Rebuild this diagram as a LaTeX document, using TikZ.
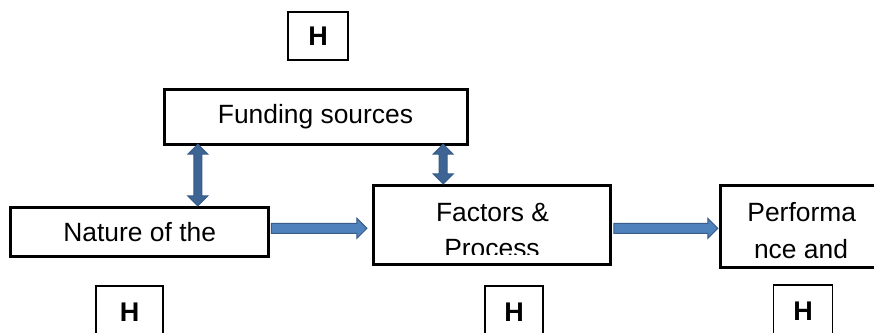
\documentclass[tikz,border=0pt]{standalone}
\usepackage{fontspec}
\setmainfont{Liberation Sans}
\usetikzlibrary{calc}
\definecolor{arrfill}{HTML}{4F81BD}
\definecolor{arrline}{HTML}{385D8A}
\definecolor{varrfill}{HTML}{3E6494}
\begin{document}
\begin{tikzpicture}[x=1pt,y=-1pt,
  bigbox/.style={draw=black, line width=3pt, inner sep=0pt, fill=white,
    font=\fontsize{26.4}{36}\selectfont},
  hbox/.style={draw=black, line width=1.5pt, inner sep=0pt, fill=white,
    font=\fontsize{27}{30}\selectfont\bfseries},
  txt/.style={inner sep=0pt, font=\fontsize{26.4}{36}\selectfont},
  harr/.style={draw=arrline, fill=arrfill, line width=1pt, line join=miter},
  varr/.style={draw=arrline, fill=varrfill, line width=1pt, line join=miter}]
\clip (0,0) rectangle (874,332);
\fill[white] (0,0) rectangle (874,332);
% boxes
\node[bigbox, minimum width=303pt, minimum height=55pt] (fund) at (315.5,116.5) {Funding sources};
\node[bigbox, minimum width=257.5pt, minimum height=49.5pt] (nat) at (139.7,232.2) {Nature of the};
\node[bigbox, minimum width=237.5pt, minimum height=79.5pt] (fac) at (492.2,225.2) {};
\node[bigbox, minimum width=200pt, minimum height=82pt] (perf) at (820,226) {};
% texts in boxes
\node[txt, anchor=base] (facA) at (492.5,221.7) {Factors \&};
\begin{scope}
  \clip (fac.north west) rectangle (611,254);
  \node[txt, anchor=base] (facB) at (492,257.3) {Process};
\end{scope}
\node[txt, anchor=base] (perfA) at (801.7,221) {Performa};
\node[txt, anchor=base] (perfB) at (801,258.3) {nce and};
% H boxes
\node[hbox, minimum width=60pt, minimum height=48pt] (h1) at (318,36) {H};
\node[hbox, minimum width=67pt, minimum height=52pt] (h2) at (129.5,312) {H};
\node[hbox, minimum width=58pt, minimum height=52pt] (h3) at (514,312) {H};
\node[hbox, minimum width=59pt, minimum height=52pt] (h4) at (803,311) {H};
% horizontal block arrows
\coordinate (a1s) at ($(nat.east)+(1.5,-3.9)$);
\coordinate (a1e) at ($(fac.west |- a1s)+(-5,0)$);
\coordinate (a2s) at ($(fac.east |- a1s)+(1.5,0)$);
\coordinate (a2e) at ($(perf.west |- a1s)+(-0.7,0)$);
\foreach \s/\e in {a1s/a1e, a2s/a2e}{
  \path[harr] let \p1=(\s), \p2=(\e) in
    (\x1,\y1+5pt) -- (\x2-10pt,\y1+5pt) -- (\x2-10pt,\y1+10pt) -- (\x2,\y1)
    -- (\x2-10pt,\y1-10pt) -- (\x2-10pt,\y1-5pt) -- (\x1,\y1-5pt) -- cycle;
}
% vertical double arrows
\coordinate (v1a) at ($(fund.south west)+(35.3,-1.3)$);
\coordinate (v1b) at (v1a |- nat.north);
\coordinate (v2a) at ($(fund.south east)+(-25.3,-1.3)$);
\coordinate (v2b) at (v2a |- fac.north);
\foreach \s/\e in {v1a/v1b, v2a/v2b}{
  \path[varr] let \p1=(\s), \p2=(\e) in
    (\x1,\y1) -- (\x1+10pt,\y1-10pt) -- (\x1+4pt,\y1-10pt) -- (\x1+4pt,\y2+10pt)
    -- (\x1+10pt,\y2+10pt) -- (\x1,\y2) -- (\x1-10pt,\y2+10pt) -- (\x1-4pt,\y2+10pt)
    -- (\x1-4pt,\y1-10pt) -- (\x1-10pt,\y1-10pt) -- cycle;
}
\end{tikzpicture}
\end{document}
